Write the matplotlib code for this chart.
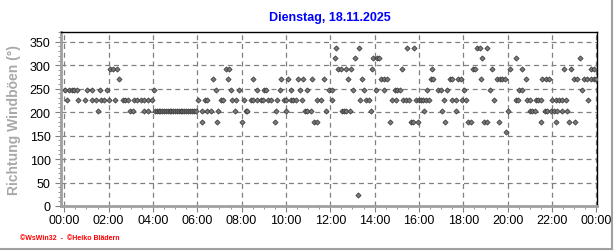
import matplotlib
matplotlib.use("Agg")
import matplotlib.pyplot as plt
from matplotlib.ticker import MultipleLocator, FixedLocator
from matplotlib.lines import Line2D
import numpy as np

plt.rcParams['font.family'] = ['Liberation Sans', 'DejaVu Sans']

# gust direction readings (hour of day) grouped by compass sector
t_337 = [12.27, 13.30, 15.48, 15.78, 18.64, 18.75, 19.06]
t_315 = [12.21, 13.12, 13.94, 14.10, 14.20, 18.86, 20.40, 23.27]
t_292 = [2.06, 2.20, 2.38, 7.31, 7.43, 12.36, 12.47, 12.72, 12.95, 13.90,
         15.22, 16.61, 18.44, 18.53, 19.31, 20.10, 20.64, 22.55, 22.85,
         23.76, 23.91]
t_270 = [2.49, 6.72, 7.40, 8.52, 9.79, 10.10, 10.56, 10.77, 11.19, 11.72,
         12.81, 13.44, 14.28, 14.42, 14.57, 16.53, 16.64, 17.39, 17.48,
         17.78, 17.89, 18.79, 19.54, 19.65, 19.77, 19.89, 20.82, 21.57,
         21.72, 21.87, 23.00, 23.15, 23.45, 23.60, 23.76, 23.91, 24.00]
t_247 = [0.02, 0.22, 0.33, 0.44, 0.56, 1.02, 1.23, 1.60, 1.92, 4.05,
         6.83, 7.53, 7.88, 8.70, 9.00, 9.11, 9.72, 10.21, 10.63, 10.96,
         11.96, 12.08, 13.04, 13.54, 14.05, 14.42, 14.92, 15.03, 15.13,
         16.38, 16.86, 16.98, 17.28, 18.04, 19.21, 20.52, 20.67, 23.38]
t_225 = [0.11, 0.62, 0.93, 1.27, 1.42, 1.65, 1.80, 2.02, 2.29, 2.63,
         2.73, 2.88, 3.15, 3.30, 3.45, 3.60, 3.76, 3.94, 6.04, 6.34,
         6.45, 7.05, 7.16, 7.58, 7.76, 8.10, 8.41, 8.51, 8.70, 8.86,
         8.96, 9.20, 9.31, 9.61, 9.91, 10.01, 10.21, 10.32, 10.44, 10.71,
         11.39, 11.59, 12.06, 13.34, 13.62, 13.75, 14.77, 14.95, 15.28,
         15.43, 15.55, 15.88, 16.00, 16.10, 16.20, 16.31, 16.46, 17.13,
         17.51, 17.66, 17.96, 18.11, 19.39, 20.40, 20.49, 20.89, 21.00,
         21.27, 21.38, 21.50, 22.02, 22.18, 22.33, 22.47, 22.63, 23.63]
t_202 = [1.53, 2.97, 3.12, 3.58, 3.76, 4.08, 4.17, 4.25, 4.33, 4.42,
         4.50, 4.58, 4.67, 4.75, 4.83, 4.92, 5.00, 5.08, 5.17, 5.25,
         5.33, 5.42, 5.50, 5.58, 5.67, 5.75, 5.83, 5.92, 6.22, 6.45,
         6.60, 6.94, 7.70, 8.18, 8.25, 9.54, 9.99, 10.86, 10.96, 11.12,
         11.82, 12.51, 12.62, 12.72, 12.88, 13.82, 16.23, 17.06, 17.69,
         20.04, 21.00, 21.12, 21.24, 21.69, 21.80, 21.95, 22.10, 22.25,
         22.45, 22.70]
t_180 = [6.22, 6.87, 8.00, 9.49, 11.26, 11.41, 14.70, 15.63, 15.73, 15.97,
         17.18, 18.23, 18.34, 18.94, 19.09, 19.62, 21.50, 22.18, 22.75, 23.05]
t_157 = [19.93]
t_022 = [13.24]

sectors = [(t_337, 337.5), (t_315, 315.0), (t_292, 292.5), (t_270, 270.0),
           (t_247, 247.5), (t_225, 225.0), (t_202, 202.5), (t_180, 180.0),
           (t_157, 157.5), (t_022, 22.5)]

hours = np.concatenate([np.array(t) for t, _ in sectors])
direction = np.concatenate([np.full(len(t), d) for t, d in sectors])

xticks = list(range(0, 25, 2))
xlabels = ["%02d:00" % (h % 24) for h in xticks]

fig = plt.figure(figsize=(6.16, 2.53), dpi=100)
ax = fig.add_axes([0.099, 0.182, 0.870, 0.686])

ax.scatter(hours, direction, marker='D', s=7, c='#7a7a7a',
           edgecolors='#303030', linewidths=0.5, zorder=3)

ax.set_xlim(-0.15, 24.03)
ax.set_ylim(0, 370)
ax.xaxis.set_major_locator(FixedLocator(xticks))
ax.set_xticklabels(xlabels)
ax.xaxis.set_minor_locator(MultipleLocator(0.5))
ax.yaxis.set_major_locator(FixedLocator(range(0, 351, 50)))
ax.yaxis.set_minor_locator(MultipleLocator(10))

ax.grid(True, which='major', color='#808080', linestyle=(0, (4, 3)),
        linewidth=0.9)
ax.tick_params(axis='both', which='major', labelsize=9, length=4,
               color='#808080', direction='out')
ax.tick_params(axis='both', which='minor', length=2, color='#808080',
               direction='out')
ax.tick_params(axis='x', pad=2)

for side in ['left', 'bottom']:
    ax.spines[side].set_color('#a0a0a0')
    ax.spines[side].set_linewidth(2)
for side in ['top', 'right']:
    ax.spines[side].set_color('black')
    ax.spines[side].set_linewidth(1)

ax.set_ylabel("Richtung Windböen (°)", color='#a8a8a8', fontsize=10,
              fontweight='bold', labelpad=6)

fig.text(0.535, 0.928, "Dienstag, 18.11.2025", color='#0000ff',
         fontsize=9, fontweight='bold', ha='center', va='center')

fig.text(0.032, 0.058, "\u00a9WsWin32  -  \u00a9Heiko Blädern", color='#ff0000',
         fontsize=5, fontweight='bold', ha='left', va='center')

# outer frame of the image
fig.add_artist(Line2D([0.994, 0.994], [0.012, 1.0], color='#a0a0a0',
                      linewidth=1.5, transform=fig.transFigure))
fig.add_artist(Line2D([0.0, 0.994], [0.012, 0.012], color='#a0a0a0',
                      linewidth=1.5, transform=fig.transFigure))

fig.savefig("out.png", dpi=100)
